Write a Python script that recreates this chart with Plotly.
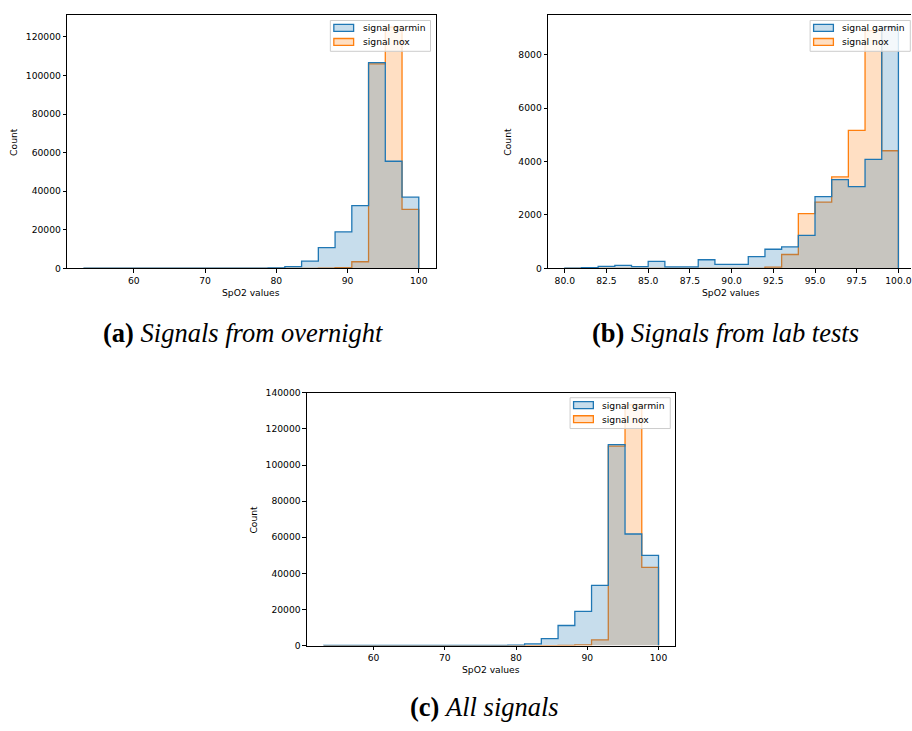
import numpy as np
import plotly.graph_objects as go

# ---------------- data ----------------
# (a) overnight: 20 bins from 53 to 100
bins_a_lo, bins_a_hi, bins_a_n = 53.0, 100.0, 20
garmin_a = [20, 10, 10, 15, 15, 20, 25, 30, 40, 60, 100, 250,
            850, 3700, 10700, 18900, 32500, 106600, 55500, 36900]
nox_a = [0, 0, 0, 0, 0, 0, 0, 0, 0, 0, 0, 0,
         0, 0, 20, 350, 3400, 106000, 125000, 30600]

# (b) lab tests: 20 bins from 80 to 100
bins_b_lo, bins_b_hi, bins_b_n = 80.0, 100.0, 20
garmin_b = [10, 25, 75, 110, 60, 258, 50, 50, 320, 150,
            150, 440, 713, 800, 1230, 2680, 3320, 3060, 4080, 9024]
nox_b = [0, 0, 0, 0, 0, 0, 0, 0, 0, 0,
         0, 0, 40, 516, 2050, 2480, 3420, 5160, 8900, 4400]

# (c) all signals: 20 bins from 53 to 100
bins_c_lo, bins_c_hi, bins_c_n = 53.0, 100.0, 20
garmin_c = [20, 10, 10, 15, 15, 20, 25, 30, 40, 60, 110, 270,
            900, 3800, 11100, 18900, 33300, 111300, 61800, 50000]
nox_c = [0, 0, 0, 0, 0, 0, 0, 0, 0, 0, 0, 0,
         0, 0, 20, 350, 3100, 110500, 133350, 43300]

series_names = ["signal garmin", "signal nox"]
x_ticks_ac = [60, 70, 80, 90, 100]
x_ticks_b = [80.0, 82.5, 85.0, 87.5, 90.0, 92.5, 95.0, 97.5, 100.0]
y_ticks_a = [0, 20000, 40000, 60000, 80000, 100000, 120000]
y_ticks_b = [0, 2000, 4000, 6000, 8000]
y_ticks_c = [0, 20000, 40000, 60000, 80000, 100000, 120000, 140000]
captions = [("(a)", "Signals from overnight"),
            ("(b)", "Signals from lab tests"),
            ("(c)", "All signals")]

# ---------------- styling ----------------
W, H = 912, 731
BLUE, ORANGE = "#1f77b4", "#ff7f0e"
BLUE_F, ORANGE_F = "rgba(31,119,180,0.25)", "rgba(255,127,14,0.25)"
TFONT = dict(family="DejaVu Sans", size=9.2, color="black")

fig = go.Figure()


def step_xy(lo, hi, n, counts):
    edges = np.linspace(lo, hi, n + 1)
    xs = np.concatenate([[edges[0]], edges, [edges[-1]]])
    ys = np.concatenate([[0], counts, [counts[-1]], [0]])
    return xs, ys


def px_x(v):
    return v / W


def px_y(v):
    return 1 - v / H


panels = [
    dict(lo=bins_a_lo, hi=bins_a_hi, n=bins_a_n, g=garmin_a, o=nox_a,
         px=(67.3, 436.0), py=(9.3, 266.3), yt=y_ticks_a, xt=x_ticks_ac, fmt="d"),
    dict(lo=bins_b_lo, hi=bins_b_hi, n=bins_b_n, g=garmin_b, o=nox_b,
         px=(548.7, 916.1), py=(9.3, 266.3), yt=y_ticks_b, xt=x_ticks_b, fmt=".1f"),
    dict(lo=bins_c_lo, hi=bins_c_hi, n=bins_c_n, g=garmin_c, o=nox_c,
         px=(307.3, 676.0), py=(392.7, 649.3), yt=y_ticks_c, xt=x_ticks_ac, fmt="d"),
]
legend_pos = [(330.7, 14.7), (811.0, 14.7), (570.7, 397.7)]
count_pos = [(14, 138), (508.3, 138), (254, 521.7)]
xlabel_pos = [(251.7, 290.7), (731.7, 290.7), (491.7, 673.3)]
caption_pos = [(243, 332), (726, 332), (485, 712)]

shapes = []
for i, p in enumerate(panels):
    k = "" if i == 0 else str(i + 1)
    # nox drawn first so garmin sits on top
    for name, vals, lc, fc in [(series_names[1], p["o"], ORANGE, ORANGE_F),
                               (series_names[0], p["g"], BLUE, BLUE_F)]:
        xs, ys = step_xy(p["lo"], p["hi"], p["n"], vals)
        fig.add_trace(go.Scatter(
            x=xs, y=ys, mode="lines", line=dict(shape="hv", color=lc, width=1.3),
            fill="tozeroy", fillcolor=fc, name=name, showlegend=False,
            xaxis="x" + k, yaxis="y" + k, hoverinfo="skip"))

    span = p["hi"] - p["lo"]
    r0, r1 = p["lo"] - 0.05 * span, p["hi"] + 0.05 * span
    left_px, right_px = p["px"]
    show_right = True
    if right_px > W:
        r1 = r0 + (r1 - r0) * (W - left_px) / (right_px - left_px)
        right_px = W
        show_right = False
    ymax = 1.05 * max(max(p["g"]), max(p["o"]))
    top_px, bot_px = p["py"]
    axcommon = dict(showgrid=False, zeroline=False, showline=True, linecolor="black",
                    linewidth=1, ticks="outside", ticklen=3.5, tickwidth=0.8,
                    tickcolor="black", tickfont=TFONT, ticklabeloverflow="allow")
    fig.update_layout(**{
        "xaxis" + k: dict(domain=[px_x(left_px), px_x(right_px)], range=[r0, r1],
                          tickvals=p["xt"], tickformat=p["fmt"], mirror=True,
                          anchor="y" + k, **axcommon),
        "yaxis" + k: dict(domain=[px_y(bot_px), px_y(top_px)], range=[0, ymax],
                          tickvals=p["yt"], tickformat="d", mirror=show_right,
                          anchor="x" + k, **axcommon),
    })
    fig.add_annotation(x=px_x(count_pos[i][0]), y=px_y(count_pos[i][1]), xref="paper",
                       yref="paper", text="Count", textangle=-90, showarrow=False,
                       font=TFONT, xanchor="center", yanchor="middle")
    fig.add_annotation(x=px_x(xlabel_pos[i][0]), y=px_y(xlabel_pos[i][1]), xref="paper",
                       yref="paper", text="SpO2 values", showarrow=False,
                       font=TFONT, xanchor="center", yanchor="middle")
    tag, cap = captions[i]
    fig.add_annotation(x=px_x(caption_pos[i][0]), y=px_y(caption_pos[i][1]), xref="paper",
                       yref="paper", text=f"<b>{tag}</b> <i>{cap}</i>", showarrow=False,
                       font=dict(family="Liberation Serif", size=26.5, color="black"),
                       xanchor="center", yanchor="middle")

    # legend box (matplotlib-style)
    L, T = legend_pos[i]
    shapes.append(dict(type="rect", xref="paper", yref="paper", layer="above",
                       x0=px_x(L), x1=px_x(L + 100.3), y0=px_y(T + 31.3), y1=px_y(T),
                       fillcolor="rgba(255,255,255,0.8)",
                       line=dict(color="#cccccc", width=1)))
    for j, (name, lc, fc) in enumerate([(series_names[0], BLUE, BLUE_F),
                                        (series_names[1], ORANGE, ORANGE_F)]):
        cy = T + 7.5 + j * 14.3
        shapes.append(dict(type="rect", xref="paper", yref="paper", layer="above",
                           x0=px_x(L + 3.5), x1=px_x(L + 23.3),
                           y0=px_y(cy + 3.5), y1=px_y(cy - 3.5),
                           fillcolor=fc, line=dict(color=lc, width=1.3)))
        fig.add_annotation(x=px_x(L + 30.3), y=px_y(cy), xref="paper", yref="paper",
                           text=name, showarrow=False, font=TFONT,
                           xanchor="left", yanchor="middle")

fig.update_layout(width=W, height=H, margin=dict(l=0, r=0, t=0, b=0),
                  paper_bgcolor="white", plot_bgcolor="white", showlegend=False,
                  shapes=shapes)

fig.write_html("out.html", config={"displayModeBar": False},
               post_script="document.body.style.margin='0px';")
